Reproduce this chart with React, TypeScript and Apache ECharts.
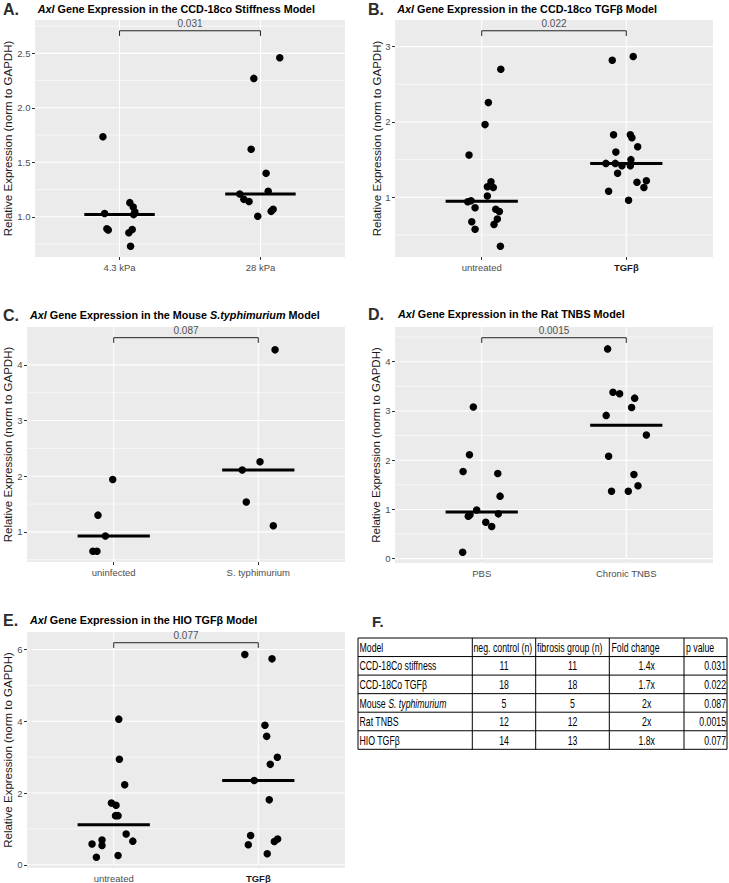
import React, { useEffect, useRef } from 'react';
import * as echarts from 'echarts';

const FONT = '"Liberation Sans", Arial, Helvetica, sans-serif';

// ---------- Panel A: CCD-18co stiffness ----------
const aCats = ['4.3 kPa', '28 kPa'];
const aBold = [false, false];
const aCtrl = [1.735, 1.03, 0.89, 0.88, 1.13, 1.09, 1.043, 1.02, 0.884, 0.853, 0.73];
const aCtrlJit = [-0.118, -0.106, -0.09, -0.08, 0.073, 0.097, 0.109, 0.1, 0.09, 0.066, 0.078];
const aTrt = [2.46, 2.27, 1.62, 1.4, 1.235, 1.21, 1.16, 1.14, 1.005, 1.07, 1.05];
const aTrtJit = [0.137, -0.047, -0.066, 0.04, 0.055, -0.147, -0.118, -0.081, -0.019, 0.09, 0.076];
const aTicks = [1.0, 1.5, 2.0, 2.5];
const aMinor = [0.75, 1.25, 1.75, 2.25, 2.75];
const aBracket = 2.707;
const aP = '0.031';

// ---------- Panel B: CCD-18co TGFb ----------
const bCats = ['untreated', 'TGFβ'];
const bBold = [false, true];
const bCtrl = [2.7, 2.257, 1.965, 1.56, 1.207, 1.14, 1.13, 1.017, 0.94, 0.955, 0.86, 0.84, 0.81, 0.71, 0.676, 0.64, 0.575, 0.35];
const bCtrlJit = [0.132, 0.046, 0.023, -0.088, 0.064, 0.039, 0.08, 0.039, -0.097, -0.074, -0.046, 0.097, 0.122, 0.108, -0.069, 0.085, -0.046, 0.129];
const bTrt = [2.82, 2.87, 1.83, 1.83, 1.79, 1.67, 1.6, 1.5, 1.45, 1.45, 1.42, 1.42, 1.32, 1.2, 1.22, 1.13, 1.08, 0.96];
const bTrtJit = [-0.097, 0.048, -0.088, 0.028, 0.039, 0.079, -0.072, 0.032, -0.141, -0.076, -0.03, 0.028, -0.06, 0.074, 0.139, 0.122, -0.122, 0.016];
const bTicks = [1, 2, 3];
const bMinor = [0.5, 1.5, 2.5];
const bBracket = 3.211;
const bP = '0.022';

// ---------- Panel C: Mouse S. typhimurium ----------
const cCats = ['uninfected', 'S. typhimurium'];
const cBold = [false, false];
const cCtrl = [1.94, 1.3, 0.925, 0.65, 0.65];
const cCtrlJit = [-0.007, -0.109, -0.058, -0.144, -0.116];
const cTrt = [4.27, 2.26, 2.11, 1.535, 1.11];
const cTrtJit = [0.116, 0.012, -0.111, -0.083, 0.104];
const cTicks = [1, 2, 3, 4];
const cMinor = [0.5, 1.5, 2.5, 3.5];
const cBracket = 4.489;
const cP = '0.087';

// ---------- Panel D: Rat TNBS ----------
const dCats = ['PBS', 'Chronic TNBS'];
const dBold = [false, false];
const dCtrl = [3.08, 2.11, 1.77, 1.73, 1.27, 0.99, 0.86, 0.89, 0.91, 0.74, 0.655, 0.13];
const dCtrlJit = [-0.058, -0.085, -0.129, 0.111, 0.127, -0.035, -0.093, -0.081, 0.115, 0.028, 0.069, -0.132];
const dTrt = [4.26, 3.38, 3.35, 3.26, 3.07, 2.91, 2.51, 2.08, 1.71, 1.48, 1.37, 1.37];
const dTrtJit = [-0.129, -0.092, -0.046, 0.058, 0.037, -0.139, 0.139, -0.122, 0.053, 0.081, -0.102, 0.014];
const dTicks = [0, 1, 2, 3, 4];
const dMinor = [0.5, 1.5, 2.5, 3.5, 4.5];
const dBracket = 4.487;
const dP = '0.0015';

// ---------- Panel E: HIO TGFb ----------
const eCats = ['untreated', 'TGFβ'];
const eBold = [false, true];
const eCtrl = [4.06, 2.94, 2.23, 1.72, 1.66, 1.37, 1.37, 0.86, 0.66, 0.69, 0.54, 0.58, 0.21, 0.26];
const eCtrlJit = [0.035, 0.039, 0.076, -0.016, 0.016, 0.012, 0.03, 0.086, 0.132, -0.081, -0.081, -0.15, -0.12, 0.03];
const eTrt = [5.86, 5.74, 3.89, 3.58, 3.0, 2.8, 2.35, 1.81, 0.816, 0.557, 0.65, 0.72, 0.306];
const eTrtJit = [-0.093, 0.095, 0.046, 0.058, 0.132, 0.083, -0.028, 0.076, -0.053, -0.069, 0.111, 0.134, 0.062];
const eTicks = [0, 2, 4, 6];
const eMinor = [1, 3, 5];
const eBracket = 6.19;
const eP = '0.077';

// ---------- Panel F: table ----------
const tableHeader = ['Model', 'neg. control (n)', 'fibrosis group (n)', 'Fold change', 'p value'];
const tableModels = ['CCD-18Co stiffness', 'CCD-18Co TGFβ', 'Mouse ', 'Rat TNBS', 'HIO TGFβ'];
const tableModelsItalic = ['', '', 'S. typhimurium', '', ''];
const tableNeg = [11, 18, 5, 12, 14];
const tableFib = [11, 18, 5, 12, 13];
const tableFold = ['1.4x', '1.7x', '2x', '2x', '1.8x'];
const tablePVal = ['0.031', '0.022', '0.087', '0.0015', '0.077'];

const yTitle = 'Relative Expression (norm to GAPDH)';

const panels = [
  { letter: 'A.', titleMid: 'CCD-18co Stiffness', titleIt: '', cats: aCats, bold: aBold, g: [[aCtrl, aCtrlJit], [aTrt, aTrtJit]], ticks: aTicks, minor: aMinor, bracket: aBracket, p: aP, dec: 1 },
  { letter: 'B.', titleMid: 'CCD-18co TGFβ', titleIt: '', cats: bCats, bold: bBold, g: [[bCtrl, bCtrlJit], [bTrt, bTrtJit]], ticks: bTicks, minor: bMinor, bracket: bBracket, p: bP, dec: 0 },
  { letter: 'C.', titleMid: 'Mouse', titleIt: 'S.typhimurium', cats: cCats, bold: cBold, g: [[cCtrl, cCtrlJit], [cTrt, cTrtJit]], ticks: cTicks, minor: cMinor, bracket: cBracket, p: cP, dec: 0 },
  { letter: 'D.', titleMid: 'Rat TNBS', titleIt: '', cats: dCats, bold: dBold, g: [[dCtrl, dCtrlJit], [dTrt, dTrtJit]], ticks: dTicks, minor: dMinor, bracket: dBracket, p: dP, dec: 0 },
  { letter: 'E.', titleMid: 'HIO TGFβ', titleIt: '', cats: eCats, bold: eBold, g: [[eCtrl, eCtrlJit], [eTrt, eTrtJit]], ticks: eTicks, minor: eMinor, bracket: eBracket, p: eP, dec: 0 },
];

// layout (pixels)
const layouts = [
  { left: 35, top: 20, width: 310, height: 237, letterX: 3, letterY: 9.5, titleX: 37.7, titleY: 9, yTitleX: 8.3 },
  { left: 395, top: 20, width: 318, height: 237, letterX: 368, letterY: 9.5, titleX: 397.3, titleY: 9, yTitleX: 377 },
  { left: 27, top: 327, width: 318, height: 235, letterX: 3, letterY: 315, titleX: 30, titleY: 315, yTitleX: 8.3 },
  { left: 395, top: 327, width: 318, height: 236, letterX: 368, letterY: 314, titleX: 398, titleY: 314, yTitleX: 376 },
  { left: 27, top: 632, width: 318, height: 236, letterX: 3, letterY: 620, titleX: 30, titleY: 620, yTitleX: 8.3 },
];

const X_MIN = 0.4;
const X_MAX = 2.6;
const HALF_BAR = 0.25;

function median(a: number[]) {
  const s = [...a].sort((x, y) => x - y);
  const n = s.length;
  return n % 2 ? s[(n - 1) / 2] : (s[n / 2 - 1] + s[n / 2]) / 2;
}

function buildOption() {
  const grids: any[] = [];
  const xAxes: any[] = [];
  const yAxes: any[] = [];
  const series: any[] = [];
  const graphics: any[] = [];

  panels.forEach((p, k) => {
    const L = layouts[k];
    const all = [...p.g[0][0], ...p.g[1][0]];
    const lo = Math.min(...all);
    const span = p.bracket - lo;
    const ymin = lo - 0.05 * span;
    const ymax = p.bracket + 0.05 * span;
    const tip = 0.024 * span;

    grids.push({
      left: L.left, top: L.top, width: L.width, height: L.height,
      show: true, backgroundColor: '#EBEBEB', borderWidth: 0, containLabel: false, outerBoundsMode: 'none',
    });
    xAxes.push({
      gridIndex: k, type: 'value', min: X_MIN, max: X_MAX,
      axisLine: { show: false }, splitLine: { show: false },
      axisTick: { show: true, customValues: [1, 2], length: 3, lineStyle: { color: '#333', width: 1 } },
      axisLabel: {
        customValues: [1, 2], margin: 5, fontSize: 9.5, color: '#4D4D4D', fontFamily: FONT,
        formatter: (v: number) => {
          const i = Math.round(v) - 1;
          return p.bold[i] ? `{b|${p.cats[i]}}` : p.cats[i];
        },
        rich: { b: { fontWeight: 'bold', fontSize: 9.5, color: '#1a1a1a', fontFamily: FONT } },
      },
    });
    yAxes.push({
      gridIndex: k, type: 'value', min: ymin, max: ymax,
      axisLine: { show: false }, splitLine: { show: false },
      axisTick: { show: true, customValues: p.ticks, length: 3, lineStyle: { color: '#333', width: 1 } },
      axisLabel: {
        customValues: p.ticks, margin: 4.5, fontSize: 9.5, color: '#4D4D4D', fontFamily: FONT,
        formatter: (v: number) => v.toFixed(p.dec),
      },
    });

    const base = { xAxisIndex: k, yAxisIndex: k, silent: true, animation: false };
    const gridLine = (data: number[][], w: number) => ({
      ...base, type: 'line', data, symbol: 'none', showSymbol: false, z: 1,
      lineStyle: { color: '#FFFFFF', width: w }, clip: false,
    });
    p.minor.forEach((t) => series.push(gridLine([[X_MIN, t], [X_MAX, t]], 0.6)));
    p.ticks.forEach((t) => series.push(gridLine([[X_MIN, t], [X_MAX, t]], 1.1)));
    [1, 2].forEach((c) => series.push(gridLine([[c, ymin], [c, ymax]], 1.1)));

    p.g.forEach(([vals, jit], gi) => {
      const c = gi + 1;
      series.push({
        ...base, type: 'scatter', z: 3, symbolSize: 7.5,
        itemStyle: { color: '#000000', opacity: 1 },
        data: vals.map((v, i) => [c + jit[i], v]),
      });
      const m = median(vals);
      series.push({
        ...base, type: 'line', z: 4, symbol: 'none', showSymbol: false,
        lineStyle: { color: '#000000', width: 3 },
        data: [[c - HALF_BAR, m], [c + HALF_BAR, m]],
      });
    });

    series.push({
      ...base, type: 'line', z: 4, symbol: 'none', showSymbol: false, clip: false,
      lineStyle: { color: '#222222', width: 1 },
      data: [[1, p.bracket - tip], [1, p.bracket], [2, p.bracket], [2, p.bracket - tip]],
    });
    series.push({
      ...base, type: 'scatter', z: 4, symbolSize: 1, clip: false,
      itemStyle: { color: 'rgba(0,0,0,0)' },
      label: { show: true, position: 'top', distance: 1.5, formatter: p.p, fontSize: 10, color: '#222222', fontFamily: FONT },
      data: [[1.5, p.bracket]],
    });

    // letter
    graphics.push({
      type: 'text', x: L.letterX, y: L.letterY, silent: true,
      style: { text: p.letter, fontSize: 16, fontWeight: 'bold', fill: '#2b2b2b', fontFamily: FONT, align: 'left', verticalAlign: 'middle' },
    });
    // title
    let t = `{i|Axl} Gene Expression in the ${p.titleMid}`;
    if (p.titleIt) t += ` {i|${p.titleIt}}`;
    t += ' Model';
    graphics.push({
      type: 'text', x: L.titleX, y: L.titleY, silent: true,
      style: {
        text: t, fontSize: 10.8, fontWeight: 'bold', fill: '#000', fontFamily: FONT, align: 'left', verticalAlign: 'middle',
        rich: { i: { fontStyle: 'italic', fontWeight: 'bold', fontSize: 10.8, fontFamily: FONT, fill: '#000' } },
      },
    });
    // y title
    graphics.push({
      type: 'text', x: L.yTitleX, y: L.top + L.height / 2, rotation: Math.PI / 2, silent: true,
      style: { text: yTitle, fontSize: 11.5, fill: '#1a1a1a', fontFamily: FONT, align: 'center', verticalAlign: 'middle' },
    });
  });

  // ---------- table F ----------
  const colX = [358, 472.3, 535.7, 609.3, 684, 727];
  const tTop = 638;
  const rowH = 18.55;
  const nRows = tableModels.length + 1;
  const tBottom = tTop + nRows * rowH;
  graphics.push({
    type: 'text', x: 372, y: 621, silent: true,
    style: { text: 'F.', fontSize: 15, fontWeight: 'bold', fill: '#2b2b2b', fontFamily: FONT, align: 'left', verticalAlign: 'middle' },
  });
  for (let i = 0; i <= nRows; i++) {
    const y = tTop + i * rowH;
    graphics.push({ type: 'line', silent: true, shape: { x1: colX[0], y1: y, x2: colX[colX.length - 1], y2: y }, style: { stroke: '#000', lineWidth: 1 } });
  }
  colX.forEach((x) => {
    graphics.push({ type: 'line', silent: true, shape: { x1: x, y1: tTop, x2: x, y2: tBottom }, style: { stroke: '#000', lineWidth: 1 } });
  });
  const SX = 0.7;
  const cellText = (text: string, x: number, y: number, align: string, rich?: any) => ({
    type: 'text', x, y, scaleX: SX, silent: true,
    style: { text, fontSize: 12.5, fill: '#000', fontFamily: FONT, align, verticalAlign: 'middle', rich },
  });
  const headX = [359.5, 473.5, 537, 611.5, 686];
  tableHeader.forEach((h, j) => graphics.push(cellText(h, headX[j], tTop + rowH / 2, 'left')));
  const centers = [1, 2, 3].map((j) => (colX[j] + colX[j + 1]) / 2);
  tableModels.forEach((m, r) => {
    const y = tTop + (r + 1.5) * rowH;
    const txt = tableModelsItalic[r] ? `${m}{i|${tableModelsItalic[r]}}` : m;
    graphics.push(cellText(txt, 359.5, y, 'left', { i: { fontStyle: 'italic', fontSize: 12.5, fontFamily: FONT, fill: '#000' } }));
    graphics.push(cellText(String(tableNeg[r]), centers[0], y, 'center'));
    graphics.push(cellText(String(tableFib[r]), centers[1], y, 'center'));
    graphics.push(cellText(tableFold[r], centers[2], y, 'center'));
    graphics.push(cellText(tablePVal[r], 726, y, 'right'));
  });

  return {
    animation: false,
    backgroundColor: '#FFFFFF',
    textStyle: { fontFamily: FONT },
    grid: grids,
    xAxis: xAxes,
    yAxis: yAxes,
    series,
    graphic: { elements: graphics },
  };
}

export default function App() {
  const ref = useRef<HTMLDivElement>(null);
  useEffect(() => {
    if (!ref.current) return;
    const chart = echarts.init(ref.current, null, { renderer: 'svg' });
    chart.setOption(buildOption() as any);
    return () => chart.dispose();
  }, []);
  return (
    <div
      ref={ref}
      style={{ position: 'absolute', left: 0, top: 0, width: 729, height: 883, background: '#fff' }}
    />
  );
}
